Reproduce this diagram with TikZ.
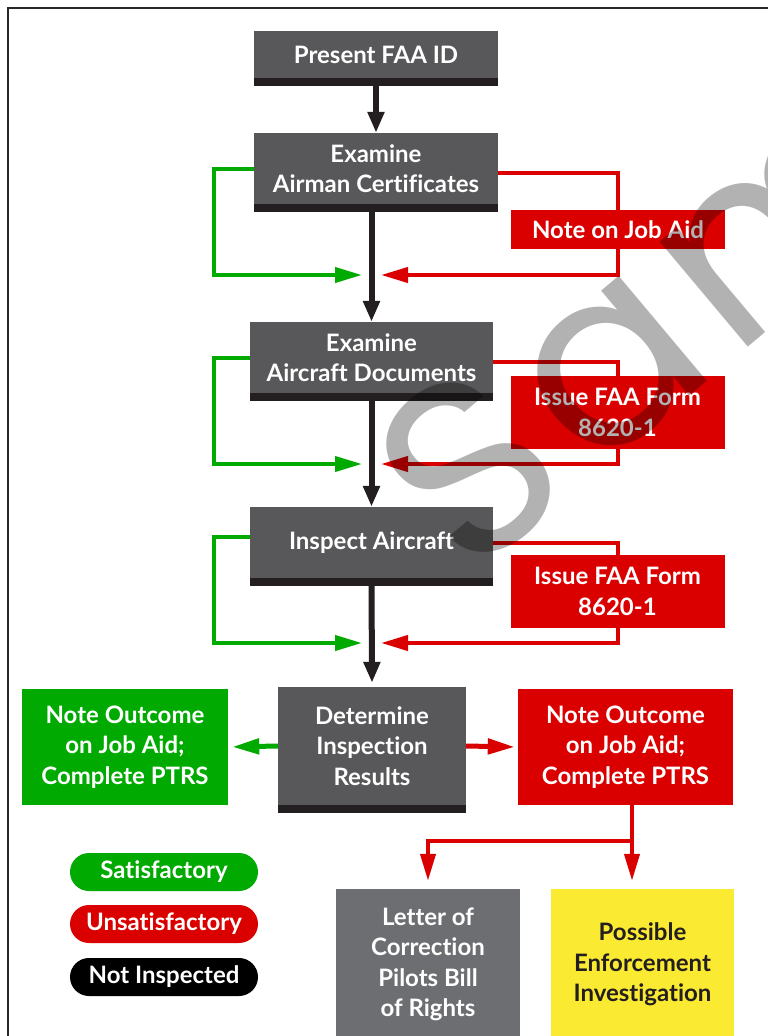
\documentclass[tikz,border=0pt]{standalone}
\usepackage{fontspec}
\setmainfont{Lato}[Ligatures=NoCommon]
\newfontfamily\wmfont{Poppins}[LetterSpace=6]
\usetikzlibrary{arrows.meta}

\definecolor{boxgray}{RGB}{88,88,90}
\definecolor{bandgray}{RGB}{35,31,32}
\definecolor{satgreen}{RGB}{0,170,0}
\definecolor{unsatred}{RGB}{218,0,0}
\definecolor{lettergray}{RGB}{109,110,113}
\definecolor{enfyellow}{RGB}{250,234,50}
\definecolor{framegray}{RGB}{40,40,40}

\newcommand{\chartfont}{\fontsize{24}{30.5}\selectfont\bfseries}

\tikzset{
  stepbox/.style={fill=boxgray, text=white, minimum width=244pt, minimum height=71pt,
    align=center, inner sep=0pt, font=\chartfont},
  notebox/.style={fill=unsatred, text=white, minimum width=214pt, minimum height=73pt,
    align=center, inner sep=0pt, font=\chartfont},
  outcomebox/.style={text=white, minimum height=116pt, align=center, inner sep=0pt, font=\chartfont},
  pill/.style={rounded corners=19pt, text=white, minimum width=188pt, minimum height=38pt,
    inner sep=0pt, font=\chartfont},
  mainline/.style={draw=bandgray, line width=6pt, -{Triangle[length=21pt,width=16pt]}},
  satline/.style={draw=satgreen, line width=4pt},
  unsatline/.style={draw=unsatred, line width=4pt},
  tipper/.style={-{Triangle[length=27pt,width=15pt]}},
  wmark/.style={rotate=40, anchor=base west, inner sep=0pt, text=black, text opacity=0.3,
    font=\wmfont\fontsize{250}{250}\selectfont}
}

\begin{document}
\begin{tikzpicture}[x=1pt,y=-1pt]
\useasboundingbox (0,0) rectangle (768,1036);
\clip (0,0) rectangle (768,1036);
\fill[white] (0,0) rectangle (768,1036);
% frame
\draw[framegray, line width=2pt] (7.5,1040) -- (7.5,7.5) -- (772,7.5);

% main column
\node[stepbox, minimum height=47pt] (id) at (376,54.5) {Present FAA ID};
\node[stepbox] (airman) at (376,168.5) {Examine\\Airman Certificates};
\node[stepbox, minimum width=243pt] (docs) at (371.5,357.5) {Examine\\Aircraft Documents};
\node[stepbox, minimum width=243pt] (insp) at (371.5,542.5) {Inspect Aircraft};
\node[stepbox, minimum width=188pt, minimum height=118pt] (results) at (372,746) {Determine\\Inspection\\Results};
\foreach \n in {id,airman,docs,insp,results}
  \fill[bandgray] (\n.south west) rectangle ([yshift=-8pt]\n.south east);

% unsatisfactory notes
\node[notebox, minimum height=39pt] (jobaid) at (618,229.5) {Note on Job Aid};
\node[notebox] (form1) at (617.5,412.5) {Issue FAA Form\\8620-1};
\node[notebox] (form2) at (617.5,591.5) {Issue FAA Form\\8620-1};

% outcomes
\node[outcomebox, fill=satgreen, minimum width=206pt] (satnote) at (125,747) {Note Outcome\\on Job Aid;\\Complete PTRS};
\node[outcomebox, fill=unsatred, minimum width=215pt] (unsatnote) at (625.5,747) {Note Outcome\\on Job Aid;\\Complete PTRS};
\node[outcomebox, fill=lettergray, minimum width=184pt, minimum height=151pt] (letter) at (428,964.5) {Letter of\\Correction\\Pilots Bill\\of Rights};
\node[outcomebox, fill=enfyellow, text=bandgray, minimum width=183pt, minimum height=151pt] (enforce) at (642.5,964.5) {Possible\\Enforcement\\Investigation};

% legend
\node[pill, fill=satgreen] (sat) at (164,872) {Satisfactory};
\node[pill, fill=unsatred] (unsat) at (164,924) {Unsatisfactory};
\node[pill, fill=black] (notinsp) at (164,977) {Not Inspected};

% merge points on the main line
\coordinate (m1) at (372,275);
\coordinate (m2) at (372,464);
\coordinate (m3) at (372,643);
\coordinate (fork) at (632,841);

\draw[mainline] (id.south) -- (airman.north);
\draw[mainline] (airman.south -| docs.north) -- (docs.north);
\draw[mainline] (docs.south) -- (insp.north);
\draw[mainline] (insp.south) -- ([yshift=4pt]results.north);

% satisfactory loops
\draw[satline, tipper] (airman.west) -- ++(-40,0) |- ([xshift=-10pt]m1);
\draw[satline, tipper] (docs.west) -- ++(-36,0) |- ([xshift=-10pt]m2);
\draw[satline, tipper] ([yshift=5.5pt]insp.west) -- ++(-36,0) |- ([xshift=-10pt]m3);

% unsatisfactory loops
\draw[unsatline] ([yshift=-4.5pt]airman.east) -| (jobaid.north);
\draw[unsatline, tipper] (jobaid.south) |- ([xshift=9pt]m1);
\draw[unsatline] ([yshift=-4.5pt]docs.east) -| (form1.north);
\draw[unsatline, tipper] (form1.south) |- ([xshift=9pt]m2);
\draw[unsatline] (insp.east) -| (form2.north);
\draw[unsatline, tipper] (form2.south) |- ([xshift=9pt]m3);

% results
\draw[satline, line width=5pt, tipper, shorten >=4pt] (results.west) -- (satnote.east);
\draw[unsatline, line width=5pt, tipper, shorten >=3pt] (results.east) -- (unsatnote.west);
\draw[unsatline, tipper] (unsatnote.south -| fork) -- ([yshift=8pt]enforce.north -| fork);
\draw[unsatline, tipper] (fork) -| ([yshift=8pt]letter.north);

% watermark
\node[wmark] (wm) at (468,582) {Sample};
\end{tikzpicture}
\end{document}
